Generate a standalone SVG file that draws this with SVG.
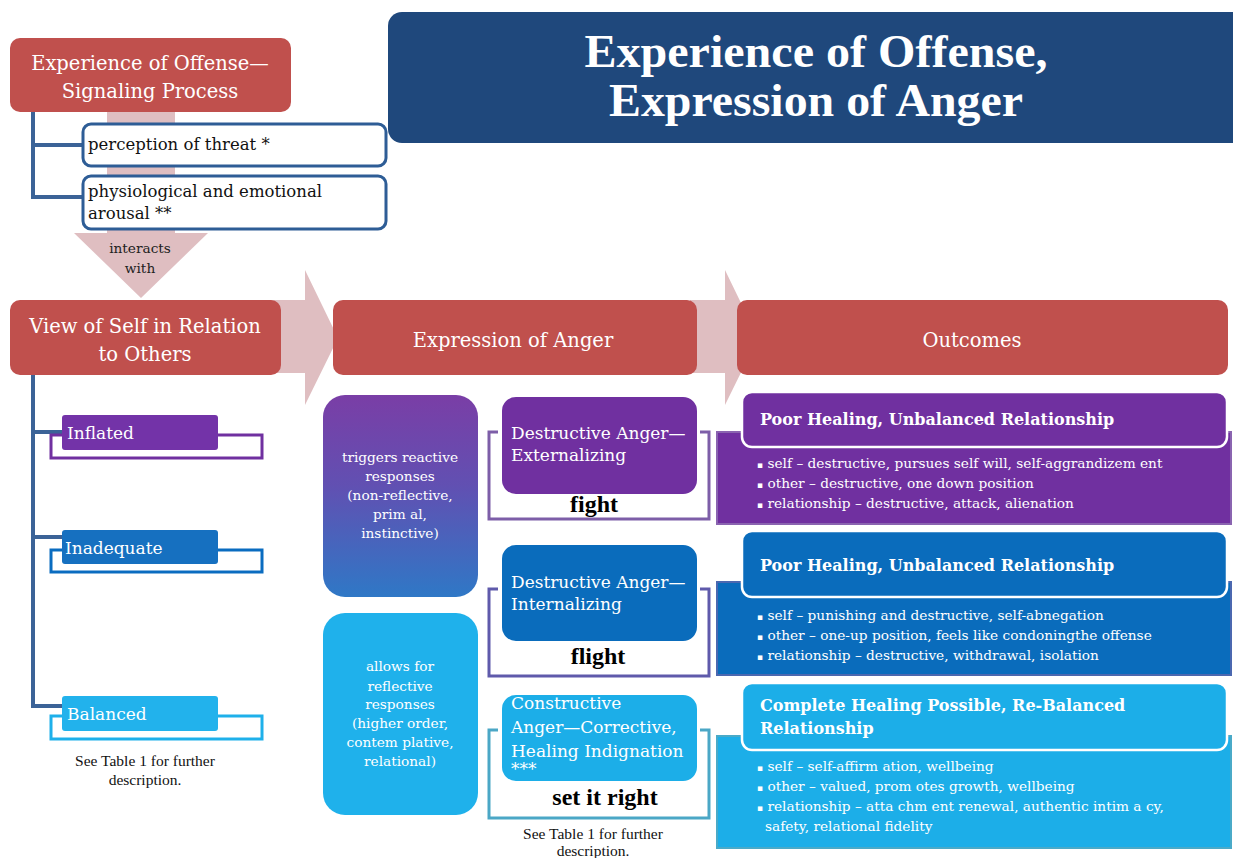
<svg xmlns="http://www.w3.org/2000/svg" width="1233" height="858" viewBox="0 0 1233 858">
<defs>
<linearGradient id="gPurple" x1="0" y1="0" x2="0" y2="1">
<stop offset="0" stop-color="#7a3ea6"/>
<stop offset="0.45" stop-color="#6150b2"/>
<stop offset="1" stop-color="#2f78c6"/>
</linearGradient>
<style>
.red{fill:#c0504d}
.hdr{font-family:"DejaVu Serif",serif;font-size:19.5px;fill:#fff;text-anchor:middle}
.tree{fill:none;stroke:#3b6397;stroke-width:4}
.wbox{fill:#fff;stroke:#2e5d96;stroke-width:3}
.blk{font-family:"DejaVu Serif",serif;font-size:16.5px;fill:#111}
.arrow{fill:#dcb7ba;opacity:0.9}
.wt{font-family:"Liberation Serif",serif;fill:#fff}
.lvl{font-family:"DejaVu Serif",serif;font-size:17px;fill:#fff}
.mid{font-family:"DejaVu Serif",serif;font-size:13.7px;fill:#fff;text-anchor:middle}
.note{font-family:"Liberation Serif",serif;font-size:15.5px;fill:#111;text-anchor:middle}
.act{font-family:"Liberation Serif",serif;font-size:24px;font-weight:bold;fill:#000;text-anchor:middle}
.oh{font-family:"DejaVu Serif",serif;font-size:16px;font-weight:bold;fill:#fff}
.bul{font-family:"DejaVu Serif",serif;font-size:13.7px;fill:#fff}
.sq{font-size:9px}
.cap{fill:none;stroke-width:3}
</style>
</defs>
<rect width="1233" height="858" fill="#fff"/>

<g id="connectors">
<polygon class="arrow" points="107,112 175,112 175,233 208,233 141,298 74,233 107,233"/>
<polygon class="arrow" points="270,300 305,300 305,270 338,338 305,405 305,373 270,373"/>
<polygon class="arrow" points="690,300 725,300 725,270 758,338 725,405 725,373 690,373"/>
<polyline class="tree" points="33,112 33,197 83,197"/>
<line class="tree" x1="33" y1="145" x2="83" y2="145"/>
<polyline class="tree" points="33,375 33,706 62,706"/>
<line class="tree" x1="33" y1="432" x2="62" y2="432"/>
<line class="tree" x1="33" y1="537" x2="62" y2="537"/>
</g>

<g id="title">
<rect x="388" y="12" width="860" height="131" rx="14" fill="#1f487c"/>
<text class="wt" x="816" y="67" font-size="47" font-weight="bold" text-anchor="middle" textLength="463" lengthAdjust="spacingAndGlyphs">Experience of Offense,</text>
<text class="wt" x="816" y="116" font-size="47" font-weight="bold" text-anchor="middle" textLength="414" lengthAdjust="spacingAndGlyphs">Expression of Anger</text>
</g>

<g id="signaling">
<rect class="red" x="10" y="38" width="281" height="74" rx="10"/>
<text class="hdr" x="150" y="70">Experience of Offense—</text>
<text class="hdr" x="150" y="98">Signaling Process</text>
</g>
<g id="threat">
<rect class="wbox" x="83" y="124" width="303" height="42" rx="8"/>
<text class="blk" x="88" y="150">perception of threat *</text>
</g>
<g id="arousal">
<rect class="wbox" x="83" y="176" width="303" height="53" rx="8"/>
<text class="blk" x="88" y="197">physiological and emotional</text>
<text class="blk" x="88" y="219">arousal **</text>
</g>
<g id="interacts">
<text class="mid" x="140" y="253" style="fill:#222">interacts</text>
<text class="mid" x="140" y="273" style="fill:#222">with</text>
</g>

<g id="viewself">
<rect class="red" x="10" y="300" width="271" height="75" rx="10"/>
<text class="hdr" x="145" y="333">View of Self in Relation</text>
<text class="hdr" x="145" y="361">to Others</text>
</g>
<g id="expression">
<rect class="red" x="333" y="300" width="364" height="75" rx="10"/>
<text class="hdr" x="513" y="347">Expression of Anger</text>
</g>
<g id="outcomes">
<rect class="red" x="737" y="300" width="491" height="75" rx="10"/>
<text class="hdr" x="972" y="347">Outcomes</text>
</g>

<g id="inflated">
<rect x="51" y="435" width="211" height="23" fill="none" stroke="#7030a0" stroke-width="3"/>
<rect x="62" y="415" width="156" height="35" rx="3" fill="#7333a8"/>
<text class="lvl" x="67" y="439">Inflated</text>
</g>
<g id="inadequate">
<rect x="51" y="550" width="211" height="22" fill="none" stroke="#0a6cc0" stroke-width="3"/>
<rect x="62" y="530" width="156" height="34" rx="3" fill="#1670c0"/>
<text class="lvl" x="65" y="554">Inadequate</text>
</g>
<g id="balanced">
<rect x="51" y="716" width="211" height="23" fill="none" stroke="#1eb0ea" stroke-width="3"/>
<rect x="62" y="696" width="156" height="35" rx="3" fill="#22b2ec"/>
<text class="lvl" x="67" y="720">Balanced</text>
</g>
<g id="note1">
<text class="note" x="145" y="766">See Table 1 for further</text>
<text class="note" x="145" y="785">description.</text>
</g>

<g id="reactive">
<rect x="323" y="395" width="155" height="202" rx="22" fill="url(#gPurple)"/>
<text class="mid" x="400" y="462">triggers reactive</text>
<text class="mid" x="400" y="481">responses</text>
<text class="mid" x="400" y="500">(non-reflective,</text>
<text class="mid" x="400" y="519">prim al,</text>
<text class="mid" x="400" y="538">instinctive)</text>
</g>
<g id="reflective">
<rect x="323" y="613" width="155" height="202" rx="22" fill="#1fb1eb"/>
<text class="mid" x="400" y="671">allows for</text>
<text class="mid" x="400" y="691">reflective</text>
<text class="mid" x="400" y="709">responses</text>
<text class="mid" x="400" y="728">(higher order,</text>
<text class="mid" x="400" y="747">contem plative,</text>
<text class="mid" x="400" y="766">relational)</text>
</g>

<g id="externalizing">
<path class="cap" stroke="#7d5ea8" d="M498,432 H489 V519 H709 V432 H700"/>
<rect x="502" y="397" width="195" height="97" rx="14" fill="#7030a0"/>
<text class="lvl" x="511" y="439">Destructive Anger—</text>
<text class="lvl" x="511" y="461">Externalizing</text>
<text class="act" x="594" y="512">fight</text>
</g>
<g id="internalizing">
<path class="cap" stroke="#5f5aab" d="M498,589 H489 V676 H709 V589 H700"/>
<rect x="502" y="545" width="195" height="96" rx="14" fill="#0a6cbc"/>
<text class="lvl" x="511" y="588">Destructive Anger—</text>
<text class="lvl" x="511" y="610">Internalizing</text>
<text class="act" x="598" y="664">flight</text>
</g>
<g id="constructive">
<path class="cap" stroke="#4ba7c6" d="M498,730 H489 V818 H709 V730 H700"/>
<rect x="502" y="695" width="195" height="86" rx="14" fill="#1caee8"/>
<text class="lvl" x="511" y="709">Constructive</text>
<text class="lvl" x="511" y="733">Anger—Corrective,</text>
<text class="lvl" x="511" y="757">Healing Indignation</text>
<text class="lvl" x="511" y="775" font-size="13">***</text>
<text class="act" x="605" y="805">set it right</text>
</g>
<g id="note2">
<text class="note" x="593" y="839">See Table 1 for further</text>
<text class="note" x="593" y="856">description.</text>
</g>

<g id="outcome1">
<rect x="717" y="432" width="514" height="92" fill="#7030a0" stroke="#8a64b0" stroke-width="2"/>
<rect x="742" y="392" width="485" height="55" rx="10" fill="#7030a0" stroke="#fff" stroke-width="2.5"/>
<text class="oh" x="760" y="425">Poor Healing, Unbalanced Relationship</text>
<text class="bul" x="757" y="468"><tspan class="sq">▪</tspan> self – destructive, pursues self will,  self-aggrandizem ent</text>
<text class="bul" x="757" y="488"><tspan class="sq">▪</tspan> other – destructive, one down position</text>
<text class="bul" x="757" y="508"><tspan class="sq">▪</tspan> relationship – destructive, attack, alienation</text>
</g>
<g id="outcome2">
<rect x="717" y="582" width="514" height="93" fill="#0a6cbc" stroke="#4b68b0" stroke-width="2"/>
<rect x="742" y="531" width="485" height="66" rx="10" fill="#0a6cbc" stroke="#fff" stroke-width="2.5"/>
<text class="oh" x="760" y="571">Poor Healing, Unbalanced Relationship</text>
<text class="bul" x="757" y="620"><tspan class="sq">▪</tspan> self – punishing and destructive, self-abnegation</text>
<text class="bul" x="757" y="640"><tspan class="sq">▪</tspan> other – one-up position, feels like  condoningthe offense</text>
<text class="bul" x="757" y="660"><tspan class="sq">▪</tspan> relationship – destructive, withdrawal, isolation</text>
</g>
<g id="outcome3">
<rect x="717" y="736" width="514" height="112" fill="#1caee8" stroke="#4aaac8" stroke-width="2"/>
<rect x="742" y="683" width="485" height="67" rx="10" fill="#1caee8" stroke="#fff" stroke-width="2.5"/>
<text class="oh" x="760" y="711">Complete Healing Possible, Re-Balanced</text>
<text class="oh" x="760" y="734">Relationship</text>
<text class="bul" x="757" y="771"><tspan class="sq">▪</tspan> self – self-affirm ation, wellbeing</text>
<text class="bul" x="757" y="791"><tspan class="sq">▪</tspan> other – valued, prom otes growth,  wellbeing</text>
<text class="bul" x="757" y="811"><tspan class="sq">▪</tspan> relationship – atta chm ent renewal, authentic intim a cy,</text>
<text class="bul" x="765" y="831">safety, relational fidelity</text>
</g>
</svg>
